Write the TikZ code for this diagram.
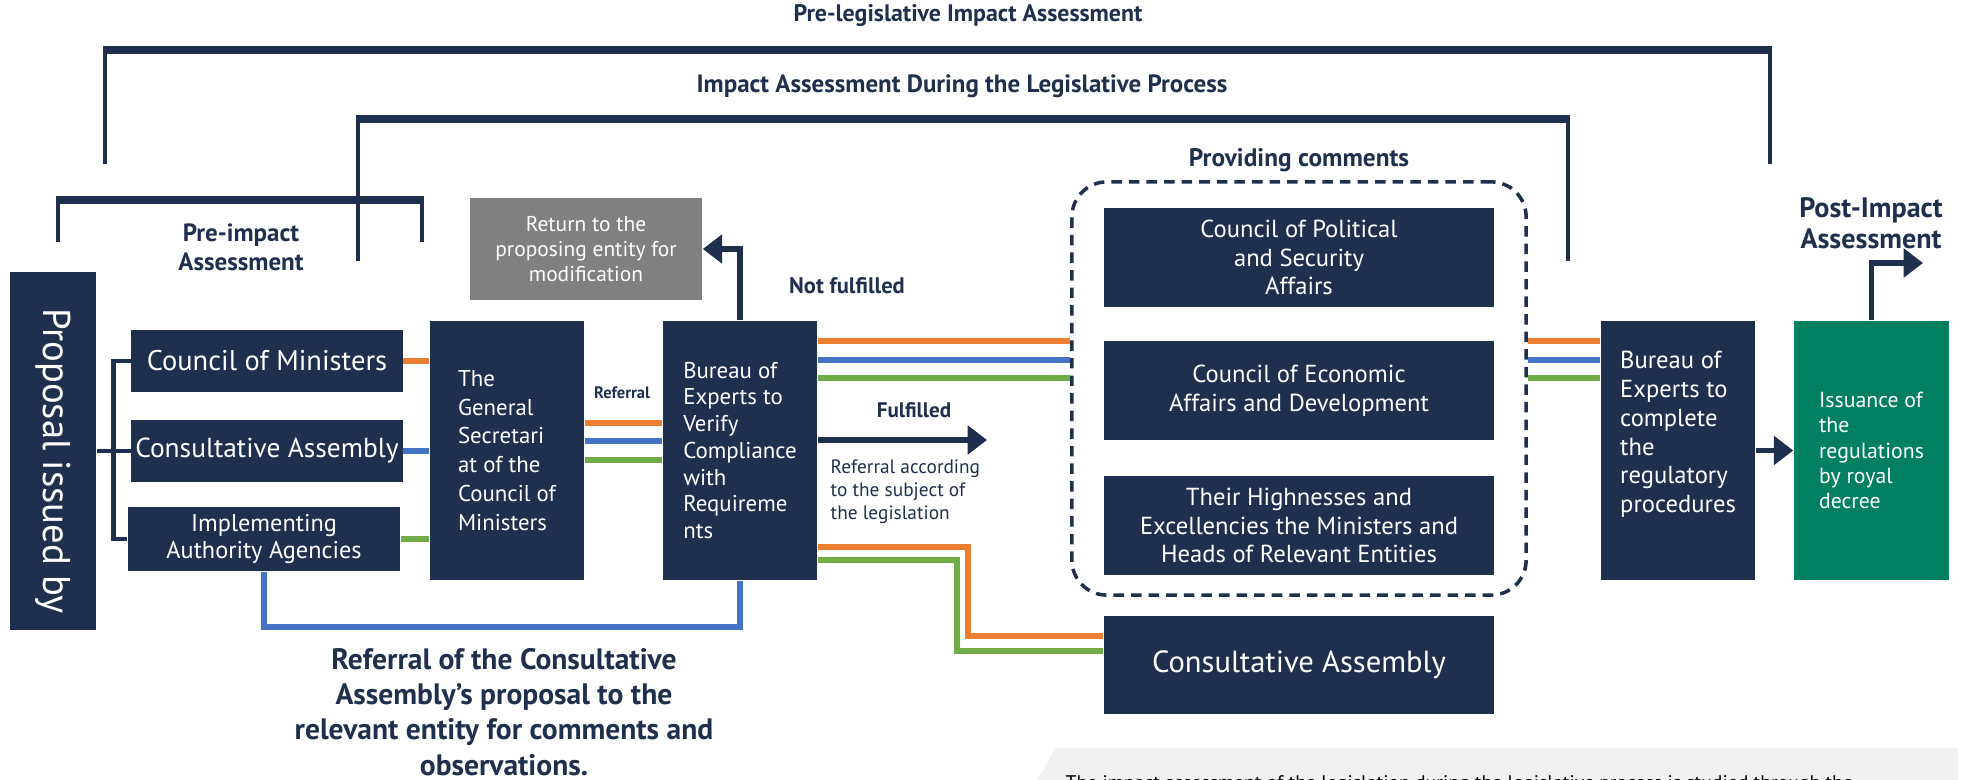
\documentclass[tikz,border=0pt]{standalone}
\usepackage{fontspec}
\setmainfont{PT Sans}
\usetikzlibrary{arrows.meta}

\definecolor{navy}{RGB}{31,48,78}
\definecolor{lnorange}{RGB}{237,125,49}
\definecolor{lnblue}{RGB}{68,114,196}
\definecolor{lngreen}{RGB}{112,173,71}
\definecolor{decreegreen}{RGB}{0,128,96}
\definecolor{backgray}{RGB}{128,128,128}
\definecolor{notegray}{RGB}{241,241,241}

\newcommand{\fsz}[2]{\fontsize{#1}{#2}\selectfont}

\tikzset{
  panel/.style={fill=navy,text=white,inner sep=0pt,align=center},
  paneltext/.style={text=white,inner sep=0pt},
  heading/.style={text=navy,font=\bfseries\fsz{6.8}{8.3},align=center,inner sep=0pt},
  feed/.style={line width=1.6pt},
  ornl/.style={feed,draw=lnorange},
  bluln/.style={feed,draw=lnblue},
  grnln/.style={feed,draw=lngreen},
  flow/.style={draw=navy,line width=1.5pt,-{Triangle[length=5.5pt,width=8pt]}},
  bar/.style={draw=navy,line width=2.4pt},
  leg/.style={draw=navy,line width=1.3pt},
}

\begin{document}
\begin{tikzpicture}[x=0.01cm,y=-0.01cm]
  \useasboundingbox (0,0) rectangle (1964,780);

  % brackets over the stages
  \node[heading] (prelegis) at (968,16) {Pre-legislative Impact Assessment};
  \draw[bar] (103,50) -- (1772,50);
  \draw[leg] (105,50) -- (105,164);
  \draw[leg] (1770,50) -- (1770,164);

  \node[heading,font=\bfseries\fsz{7.1}{8.3}] (during) at (962,86) {Impact Assessment During the Legislative Process};
  \draw[bar] (356,119) -- (1570,119);
  \draw[leg] (358,119) -- (358,261);
  \draw[leg] (1568,119) -- (1568,261);

  \draw[bar] (56,200) -- (424,200);
  \draw[leg] (58,200) -- (58,242);
  \draw[leg] (422,200) -- (422,242);
  \node[heading,font=\bfseries\fsz{7.1}{8.3}] (preimpact) at (241,247) {Pre-impact\\Assessment};

  \node[heading,font=\bfseries\fsz{7.2}{8.6}] (providing) at (1299,160) {Providing comments};
  \node[heading,font=\bfseries\fsz{8}{8.8}] (postimpact) at (1871,223) {Post-Impact\\Assessment};

  % proposing side
  \node[panel,minimum width=0.86cm,minimum height=3.58cm] (proposal) at (53,451) {};
  \node[paneltext,rotate=-90,font=\fsz{11}{12}] (proposaltext) at ([yshift=-0.1cm]proposal.center) {Proposal issued by};
  \node[panel,minimum width=2.71cm,minimum height=0.61cm,font=\fsz{8.1}{9}]
        (com) at (267,361) {Council of Ministers};
  \node[panel,minimum width=2.71cm,minimum height=0.62cm,font=\fsz{7.8}{9}]
        (ca) at (267,451) {Consultative Assembly};
  \node[panel,minimum width=2.72cm,minimum height=0.64cm,font=\fsz{6.9}{7.8}]
        (impl) at (264,539) {Implementing\\Authority Agencies};

  \draw[leg] (proposal.east) -- (ca.west);
  \draw[leg] (com.west) -- ++(-17,0) |- (impl.west);

  \node[panel,align=left,minimum width=1.54cm,minimum height=2.59cm,font=\fsz{6.5}{8.2}]
        (gensec) at (507,450.5) {The\\General\\Secretari\\at of the\\Council of\\Ministers};
  \node[panel,align=left,minimum width=1.54cm,minimum height=2.59cm,font=\fsz{6.5}{7.6}]
        (verify) at (740,450.5) {Bureau of\\Experts to\\Verify\\Compliance\\with\\Requireme\\nts};
  \node[panel,fill=backgray,minimum width=2.32cm,minimum height=1.01cm,font=\fsz{6.1}{7.1}]
        (back) at (586,249) {Return to the\\proposing entity for\\modification};

  \draw[ornl] (com.east) -- (gensec.west |- com.east);
  \draw[bluln] (ca.east) -- (gensec.west |- ca.east);
  \draw[grnln] (impl.east) -- (gensec.west |- impl.east);

  \draw[ornl] (gensec.east |- 0,423) -- (verify.west |- 0,423);
  \draw[bluln] (gensec.east |- 0,441) -- (verify.west |- 0,441);
  \draw[grnln] (gensec.east |- 0,460) -- (verify.west |- 0,460);
  \node[text=navy,font=\bfseries\fsz{4.7}{5}] (referral) at (622,393) {Referral};

  \draw[bluln] (impl.south) -- ++(0,55) -| (verify.south);
  \node[heading,font=\bfseries\fsz{8.4}{10}] (askcomments) at (504,712)
        {Referral of the Consultative\\Assembly's proposal to the\\relevant entity for comments and\\observations.};

  % verification outcome
  \draw[flow] (verify.north) |- (back.east);
  \node[heading,font=\bfseries\fsz{6.4}{7}] (notfulfilled) at (847,286) {Not fulfilled};

  \coordinate (fulfilledend) at (987,440);
  \draw[flow] (verify.east |- fulfilledend) -- (fulfilledend);
  \node[heading,font=\bfseries\fsz{6}{7}] (fulfilled) at (914,410) {Fulfilled};
  \node[text=navy,anchor=west,align=left,inner sep=0pt,font=\fsz{5.5}{6.5}] (subject) at (830,492)
        {Referral according\\to the subject of\\the legislation};

  % bodies giving comments
  \node[draw=navy,line width=1pt,dash pattern=on 3pt off 2pt,rounded corners=0.35cm,
        minimum width=4.54cm,minimum height=4.13cm] (comments) at (1299,388.5) {};
  \node[panel,minimum width=3.9cm,minimum height=0.99cm,font=\fsz{7}{8.1}]
        (political) at (1299,257.5) {Council of Political\\and Security\\Affairs};
  \node[panel,minimum width=3.9cm,minimum height=0.99cm,font=\fsz{7}{8.1}]
        (economic) at (1299,390.5) {Council of Economic\\Affairs and Development};
  \node[panel,minimum width=3.9cm,minimum height=0.99cm,font=\fsz{7}{8.1}]
        (highness) at (1299,525.5) {Their Highnesses and\\Excellencies the Ministers and\\Heads of Relevant Entities};
  \node[panel,minimum width=3.9cm,minimum height=0.98cm,font=\fsz{8.7}{10}]
        (cabottom) at (1299,665) {Consultative Assembly};

  \draw[ornl] (verify.east |- 0,341) -- (comments.west |- 0,341);
  \draw[bluln] (verify.east |- 0,360) -- (comments.west |- 0,360);
  \draw[grnln] (verify.east |- 0,378) -- (comments.west |- 0,378);

  \draw[ornl] (verify.east |- 0,547) -| (968,636) -- (cabottom.west |- 0,636);
  \draw[grnln] (verify.east |- 0,560) -| (957,651) -- (cabottom.west |- 0,651);

  % completion and issuance
  \node[panel,minimum width=1.54cm,minimum height=2.59cm] (complete) at (1678,450.5) {};
  \node[paneltext,align=left,font=\fsz{7}{8.2}] (completetext) at ([yshift=0.16cm]complete.center)
        {Bureau of\\Experts to\\complete\\the\\regulatory\\procedures};
  \node[panel,fill=decreegreen,align=left,minimum width=1.55cm,minimum height=2.59cm,font=\fsz{6.2}{7.2}]
        (decree) at (1871.5,450.5) {Issuance of\\the\\regulations\\by royal\\decree};

  \draw[ornl] (comments.east |- 0,341) -- (complete.west |- 0,341);
  \draw[bluln] (comments.east |- 0,360) -- (complete.west |- 0,360);
  \draw[grnln] (comments.east |- 0,378) -- (complete.west |- 0,378);

  \draw[flow] (complete.east) -- (decree.west);
  \coordinate (postend) at (1923,263);
  \draw[flow] (decree.north) |- (postend);

  % note strip along the bottom edge
  \fill[notegray] (1037,780) -- (1056,748) -- (1958,748) -- (1958,780) -- cycle;
  \begin{scope}
    \clip (1037,780) -- (1056,748) -- (1958,748) -- (1958,780) -- cycle;
    \node[anchor=base west,inner sep=0pt,font=\fsz{5.6}{7}] (note) at (1065,790)
          {The impact assessment of the legislation during the legislative process is studied through the};
  \end{scope}
\end{tikzpicture}
\end{document}
